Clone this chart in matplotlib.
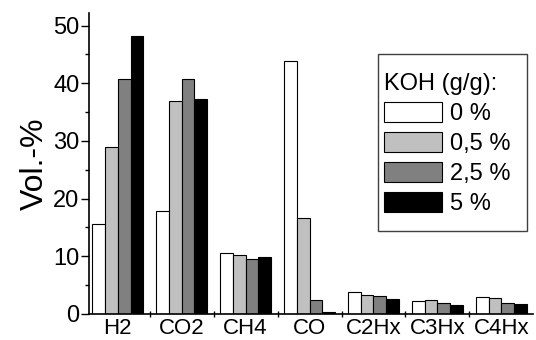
import numpy as np
import matplotlib.pyplot as plt
from matplotlib.patches import Rectangle

plt.rcParams["font.family"] = ["Liberation Sans", "DejaVu Sans"]

gases = ["H2", "CO2", "CH4", "CO", "C2Hx", "C3Hx", "C4Hx"]
koh_labels = ["0 %", "0,5 %", "2,5 %", "5 %"]
koh_0 = [15.6, 17.8, 10.6, 43.8, 3.8, 2.2, 2.9]
koh_05 = [28.9, 36.9, 10.2, 16.6, 3.3, 2.4, 2.7]
koh_25 = [40.7, 40.7, 9.5, 2.5, 3.1, 1.85, 1.85]
koh_5 = [48.2, 37.2, 9.8, 0.3, 2.6, 1.5, 1.7]
colors = ["white", "#c0c0c0", "#808080", "black"]

fig = plt.figure(figsize=(5.36, 3.4), dpi=100)
ax = fig.add_axes([0.166, 0.0765, 0.829, 0.884])

x = np.arange(len(gases))
w = 0.2
for i, (vals, lab, c) in enumerate(zip([koh_0, koh_05, koh_25, koh_5], koh_labels, colors)):
    ax.bar(x + (i - 1.5) * w, vals, w, color=c, edgecolor="black", linewidth=0.8, label=lab)

ax.set_xlim(-0.45, 6.5)
ax.set_ylim(0, 52.1)
ax.set_yticks([0, 10, 20, 30, 40, 50])
ax.set_yticks([5, 15, 25, 35, 45], minor=True)
ax.set_xticks(x)
ax.set_xticklabels(gases)
ax.set_xticks(x[:-1] + 0.5, minor=True)
ax.tick_params(axis="x", which="major", length=0, labelsize=16, pad=3)
ax.tick_params(axis="x", which="minor", length=5, direction="inout", width=1)
ax.tick_params(axis="y", which="major", length=6, width=1, labelsize=17, pad=1)
ax.tick_params(axis="y", which="minor", length=3, width=1)
for s in ["top", "right"]:
    ax.spines[s].set_visible(False)
for s in ["left", "bottom"]:
    ax.spines[s].set_linewidth(1.2)
ax.set_ylabel("Vol.-%", fontsize=23, labelpad=2)

# legend frame drawn separately (wider padding than the legend content)
ax.add_patch(Rectangle((0.651, 0.276), 0.335, 0.589, transform=ax.transAxes,
                       facecolor="white", edgecolor="#404040", linewidth=1.0,
                       zorder=4, clip_on=False))
leg = ax.legend(title="KOH (g/g):", fontsize=17, title_fontsize=17,
                loc="upper left", bbox_to_anchor=(0.665, 0.802), alignment="left",
                frameon=False, handlelength=2.45, handleheight=0.9, labelspacing=0.3,
                handletextpad=0.34, borderpad=0, borderaxespad=0)
leg.set_zorder(5)

fig.savefig("out.png", dpi=100)
